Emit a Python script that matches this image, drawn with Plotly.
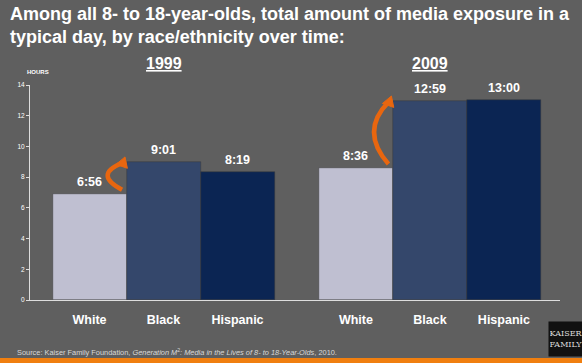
import math
import plotly.graph_objects as go

# ---- data ----
categories = ["White", "Black", "Hispanic"]
years = ["1999", "2009"]
time_1999 = ["6:56", "9:01", "8:19"]
time_2009 = ["8:36", "12:59", "13:00"]
y_ticks = [0, 2, 4, 6, 8, 10, 12, 14]
source_text = ("Source: Kaiser Family Foundation, <i>Generation M</i><sup>2</sup>"
               "<i>: Media in the Lives of 8- to 18-Year-Olds</i>, 2010.")
title_text = ("<b>Among all 8- to 18-year-olds, total amount of media exposure in a<br>"
              "typical day, by race/ethnicity over time:</b>")


def to_hours(t):
    h, m = t.split(":")
    return int(h) + int(m) / 60.0


values_1999 = [to_hours(t) for t in time_1999]
values_2009 = [to_hours(t) for t in time_2009]

colors = ["#bfbfd1", "#34476b", "#0b2553"]
BG = "#5f5f5f"
ORANGE = "#e8660f"
W, H = 582, 363
ML, MR, MT, MB = 30, 22, 85, 63
GROUP_GAP = 0.6
FONT = "Liberation Sans, Arial"

xs, ys, texts, cols, ticklabels = [], [], [], [], []
for g, (vals, tl) in enumerate([(values_1999, time_1999), (values_2009, time_2009)]):
    for i, c in enumerate(categories):
        xs.append(g * (len(categories) + GROUP_GAP) + i)
        ys.append(vals[i])
        texts.append(tl[i])
        cols.append(colors[i])
        ticklabels.append(c)

fig = go.Figure()
fig.add_trace(go.Bar(
    x=xs, y=ys, width=1.0,
    marker=dict(color=cols, line=dict(color="#3a3a3a", width=0.5)),
    hoverinfo="skip", showlegend=False,
))

plot_w = W - ML - MR
plot_h = H - MT - MB
x0 = -0.804
x1 = x0 + plot_w / 74.0
PX_X = plot_w / (x1 - x0)   # pixels per x unit
PX_Y = plot_h / 14.0        # pixels per y unit


def px_to_paper_x(px):
    return (px - ML) / plot_w


def px_to_paper_y(py):
    return (H - MB - py) / plot_h


shapes = []
annotations = []

# value labels above bars
for x, y, t in zip(xs, ys, texts):
    annotations.append(dict(
        x=x, y=y, xref="x", yref="y", yanchor="bottom", yshift=3,
        text=f"<b>{t}</b>", showarrow=False,
        font=dict(family=FONT, size=12.5, color="white"),
    ))

# curved orange arrows from White to Black in each year
n = len(categories)
for g, vals in enumerate([values_1999, values_2009]):
    xw = g * (n + GROUP_GAP)
    ybot = vals[0] + 0.25
    ytop = vals[1] + 0.15
    xa = xw + 0.44
    xc = xw + 0.05
    ymid = (ybot + ytop) / 2
    shapes.append(dict(
        type="path", xref="x", yref="y",
        path=f"M {xa},{ybot} Q {xc},{ymid} {xa},{ytop - 0.25}",
        line=dict(color=ORANGE, width=4.5),
    ))
    # arrow head (triangle) at the top end
    tipx, tipy = xa + 0.04, ytop + 0.15
    dx, dy = 0.35, 1.0
    norm = math.hypot(dx, dy)
    dx, dy = dx / norm, dy / norm
    L, Wd = 10.0, 6.0
    bx_px, by_px = -dx * L, -dy * L
    px_, py_ = dy * Wd, -dx * Wd
    p1 = (tipx + (bx_px + px_) / PX_X, tipy + (by_px + py_) / PX_Y)
    p2 = (tipx + (bx_px - px_) / PX_X, tipy + (by_px - py_) / PX_Y)
    shapes.append(dict(
        type="path", xref="x", yref="y",
        path=f"M {tipx},{tipy} L {p1[0]},{p1[1]} L {p2[0]},{p2[1]} Z",
        fillcolor=ORANGE, line=dict(color=ORANGE, width=1),
    ))

# year labels centered above middle bar of each group
for g, yr in enumerate(years):
    annotations.append(dict(
        x=g * (n + GROUP_GAP) + 1, y=px_to_paper_y(64), xref="x", yref="paper",
        yanchor="middle", text=f"<b><u>{yr}</u></b>", showarrow=False,
        font=dict(family=FONT, size=16, color="white"),
    ))

# title
annotations.append(dict(
    x=px_to_paper_x(8), y=px_to_paper_y(2), xref="paper", yref="paper",
    xanchor="left", yanchor="top", align="left", text=title_text, showarrow=False,
    font=dict(family=FONT, size=18, color="white"),
))

# HOURS label
annotations.append(dict(
    x=px_to_paper_x(24.5), y=px_to_paper_y(72), xref="paper", yref="paper",
    yanchor="middle", text="<b>HOURS</b>", showarrow=False,
    font=dict(family=FONT, size=6, color="white"),
))

# source
annotations.append(dict(
    x=px_to_paper_x(15), y=px_to_paper_y(352), xref="paper", yref="paper",
    xanchor="left", yanchor="middle", text=source_text, showarrow=False,
    font=dict(family=FONT, size=7.4, color="#d8d8d8"),
))

# orange strip at bottom
shapes.append(dict(
    type="rect", xref="paper", yref="paper", layer="above",
    x0=px_to_paper_x(-2), x1=px_to_paper_x(W + 2),
    y0=px_to_paper_y(358), y1=px_to_paper_y(H + 2),
    fillcolor="#f07f10", line=dict(width=0),
))

# logo box
annotations.append(dict(
    x=px_to_paper_x(548), y=px_to_paper_y(357), xref="paper", yref="paper",
    xanchor="left", yanchor="bottom", width=32, height=32, borderpad=1,
    bgcolor="#111111", text="KAISER<br>FAMILY", showarrow=False,
    font=dict(family="DejaVu Serif, serif", size=8, color="#dddddd"),
))

fig.update_layout(
    width=W, height=H,
    margin=dict(l=ML, r=MR, t=MT, b=MB, pad=0, autoexpand=False),
    paper_bgcolor=BG, plot_bgcolor=BG,
    xaxis=dict(range=[x0, x1], tickvals=xs, ticktext=[f"<b>{t}</b>" for t in ticklabels],
               showgrid=False, zeroline=False, showline=True, linecolor="#dddddd",
               linewidth=1, ticks="", ticklabelstandoff=8, automargin=False,
               tickfont=dict(family=FONT, size=12.5, color="white")),
    yaxis=dict(range=[0, 14], tickvals=y_ticks, showgrid=False, zeroline=False,
               showline=True, linecolor="#dddddd", linewidth=1, automargin=False,
               ticks="outside", ticklen=3, tickcolor="#dddddd",
               tickfont=dict(family=FONT, size=6.5, color="white")),
    shapes=shapes, annotations=annotations,
    bargap=0,
)

fig.write_html("out.html", config={"displayModeBar": False},
               post_script="document.body.style.margin='0';document.body.style.overflow='hidden';")
